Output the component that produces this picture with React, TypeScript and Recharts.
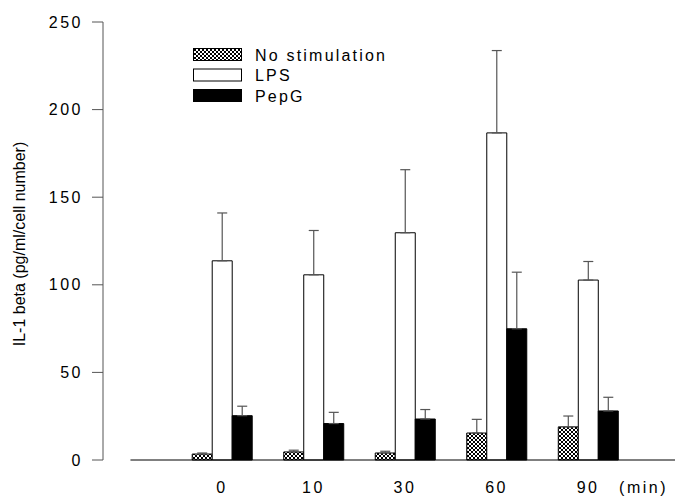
import {
  ComposedChart,
  Bar,
  ErrorBar,
  XAxis,
  YAxis,
  ReferenceLine,
} from "recharts";

const timePoints = ["0", "10", "30", "60", "90"];
const noStim = [3.4, 4.6, 4, 15.4, 18.9];
const noStimErr = [0.6, 1, 1, 7.8, 6.2];
const lps = [113.7, 105.7, 129.7, 186.7, 102.7];
const lpsErr = [27.3, 25.3, 36, 47, 10.6];
const pepg = [25.3, 20.8, 23.4, 74.9, 28];
const pepgErr = [5.4, 6.4, 5.4, 32.3, 7.8];
const yTicks = [0, 50, 100, 150, 200, 250];

const data = timePoints.map((t, i) => ({
  pos: i,
  label: t,
  noStim: noStim[i],
  noStimErr: [0, noStimErr[i]],
  lps: lps[i],
  lpsErr: [0, lpsErr[i]],
  pepg: pepg[i],
  pepgErr: [0, pepgErr[i]],
}));

const FONT = "Arial, 'Liberation Sans', sans-serif";
const AXIS = "#555";

const legendItems = [
  { name: "No stimulation", fill: "url(#hatchLegend)" },
  { name: "LPS", fill: "#fff" },
  { name: "PepG", fill: "#000" },
];

function HatchPattern({ id }: { id: string }) {
  return (
    <pattern id={id} width={4} height={4} patternUnits="userSpaceOnUse">
      <rect width={4} height={4} fill="#fff" />
      <path d="M0,0 L4,4 M4,0 L0,4" stroke="#000" strokeWidth={1} />
    </pattern>
  );
}

function ChartLegend() {
  return (
    <svg width={240} height={60} style={{ display: "block" }}>
      <defs>
        <HatchPattern id="hatchLegend" />
      </defs>
      {legendItems.map((item, i) => (
        <g key={item.name} transform={`translate(0, ${i * 20.5})`}>
          <rect
            x={0.5}
            y={0.5}
            width={48}
            height={12}
            fill={item.fill}
            stroke="#000"
            strokeWidth={1}
          />
          <text
            x={62}
            y={12.5}
            fontFamily={FONT}
            fontSize={16}
            letterSpacing={2.2}
            fill="#000"
          >
            {item.name}
          </text>
        </g>
      ))}
    </svg>
  );
}

export default function App() {
  return (
    <div
      style={{
        position: "absolute",
        left: 0,
        top: 0,
        width: 675,
        height: 496,
        background: "#fff",
      }}
    >
      <ComposedChart
        width={675}
        height={496}
        data={data}
        margin={{ top: 22, right: 0, bottom: 0, left: 0 }}
        barGap={0}
      >
        <defs>
          <HatchPattern id="hatch" />
        </defs>
        <XAxis
          dataKey="pos"
          type="number"
          domain={[-1.3, 4.95]}
          ticks={[0, 1, 2, 3, 4]}
          tickFormatter={(v: number) => timePoints[v]}
          axisLine={false}
          tickLine={false}
          tickSize={0}
          tickMargin={22}
          height={36}
          allowDataOverflow
          tick={{
            fill: "#000",
            fontSize: 16,
            fontFamily: FONT,
            letterSpacing: 2.5,
          }}
          label={{
            value: "(min)",
            position: "insideBottomRight",
            offset: 0,
            content: (props: any) => {
              const vb = props.viewBox || {};
              return (
                <text
                  x={vb.x + vb.width - 7}
                  y={vb.y + 33}
                  textAnchor="end"
                  fontFamily={FONT}
                  fontSize={16}
                  letterSpacing={2.5}
                  fill="#000"
                >
                  (min)
                </text>
              );
            },
          }}
        />
        <YAxis
          domain={[0, 250]}
          ticks={yTicks}
          width={103}
          tickSize={11}
          tickMargin={9}
          stroke={AXIS}
          tickLine={{ stroke: AXIS }}
          axisLine={{ stroke: AXIS }}
          tick={{
            fill: "#000",
            fontSize: 16,
            fontFamily: FONT,
            letterSpacing: 2.5,
          }}
          label={{
            value: "IL-1 beta (pg/ml/cell number)",
            angle: -90,
            position: "insideLeft",
            offset: 0,
            content: (props: any) => {
              const vb = props.viewBox || {};
              const cy = vb.y + vb.height / 2 + 3;
              return (
                <text
                  x={25}
                  y={cy}
                  transform={`rotate(-90 25 ${cy})`}
                  textAnchor="middle"
                  fontFamily={FONT}
                  fontSize={16}
                  fill="#000"
                >
                  IL-1 beta (pg/ml/cell number)
                </text>
              );
            },
          }}
        />
        <ReferenceLine
          segment={[
            { x: -1, y: 0 },
            { x: 4.95, y: 0 },
          ]}
          stroke="#000"
          strokeWidth={1}
          ifOverflow="visible"
        />
        <Bar
          dataKey="noStim"
          name="No stimulation"
          fill="url(#hatch)"
          stroke="#000"
          strokeWidth={1}
          barSize={20}
          isAnimationActive={false}
        >
          <ErrorBar
            dataKey="noStimErr"
            direction="y"
            width={5}
            stroke={AXIS}
            strokeWidth={1.2}
            isAnimationActive={false}
          />
        </Bar>
        <Bar
          dataKey="lps"
          name="LPS"
          fill="#fff"
          stroke="#000"
          strokeWidth={1}
          barSize={20}
          isAnimationActive={false}
        >
          <ErrorBar
            dataKey="lpsErr"
            direction="y"
            width={5}
            stroke={AXIS}
            strokeWidth={1.2}
            isAnimationActive={false}
          />
        </Bar>
        <Bar
          dataKey="pepg"
          name="PepG"
          fill="#000"
          stroke="#000"
          strokeWidth={1}
          barSize={20}
          isAnimationActive={false}
        >
          <ErrorBar
            dataKey="pepgErr"
            direction="y"
            width={5}
            stroke={AXIS}
            strokeWidth={1.2}
            isAnimationActive={false}
          />
        </Bar>
      </ComposedChart>
      <div style={{ position: "absolute", left: 193, top: 48 }}>
        <ChartLegend />
      </div>
    </div>
  );
}
